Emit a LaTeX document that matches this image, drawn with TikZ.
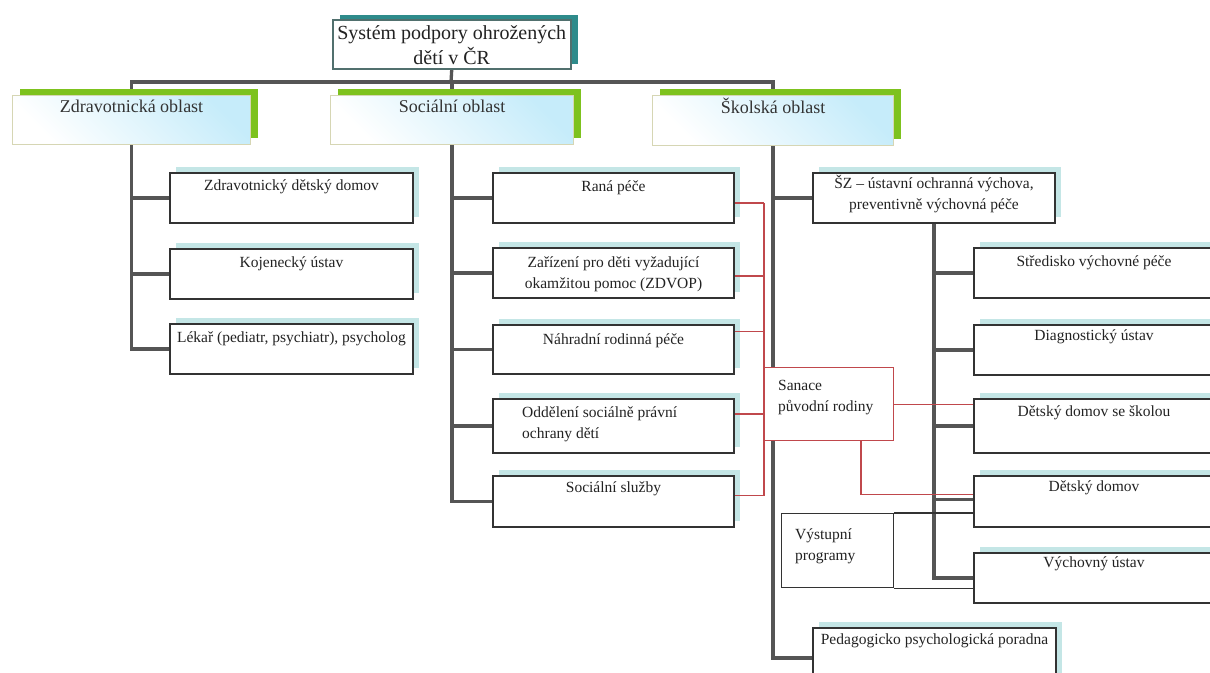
\documentclass[tikz,border=0pt]{standalone}
\usepackage{fontspec}
\setmainfont{Liberation Serif}
\usetikzlibrary{shadows,calc,backgrounds}
\pgfdeclarelayer{bottom}
\pgfsetlayers{bottom,background,main}
\definecolor{gline}{HTML}{555555}
\definecolor{bord}{HTML}{333333}
\definecolor{shteal}{HTML}{C4E6E6}
\definecolor{catgreen}{HTML}{7DC21E}
\definecolor{catbord}{HTML}{D6D6B4}
\definecolor{catblue}{HTML}{C6ECFA}
\definecolor{titlebord}{HTML}{51706E}
\definecolor{titleteal}{HTML}{2E8B8B}
\definecolor{redl}{HTML}{C0484C}
\definecolor{txtc}{HTML}{222222}
\tikzset{
  conn/.style={draw=gline, line width=3.3pt},
  rconn/.style={draw=redl, line width=1.2pt},
  thinl/.style={draw=bord, line width=1.3pt},
  cbox/.style={draw=bord, line width=2pt, fill=white, anchor=north west, inner sep=0pt,
    general shadow={fill=shteal, shadow xshift=6pt, shadow yshift=6pt}},
  catbox/.style={draw=catbord, line width=1pt, anchor=north west, inner sep=0pt,
    top color=catblue, bottom color=white, shading angle=-45,
    general shadow={fill=catgreen, shadow xshift=7pt, shadow yshift=7pt}},
  titlebox/.style={draw=titlebord, line width=1.5pt, fill=white, anchor=north west, inner sep=0pt,
    general shadow={fill=titleteal, shadow xshift=7pt, shadow yshift=5pt}},
  sanbox/.style={draw=redl, line width=1.2pt, fill=white, anchor=north west, inner sep=0pt},
  vpbox/.style={draw=bord, line width=1.3pt, fill=white, anchor=north west, inner sep=0pt},
  txt/.style={font=\fontsize{15.5}{21}\selectfont, text=txtc, inner sep=0pt, anchor=north, align=center},
  ltxt/.style={font=\fontsize{15.5}{21}\selectfont, text=txtc, inner sep=0pt, anchor=north west, align=left},
  cattxt/.style={font=\fontsize{18}{21}\selectfont, text=black!80, inner sep=0pt, anchor=north, align=center},
  ttltxt/.style={font=\fontsize{20}{24}\selectfont, text=txtc, inner sep=0pt, anchor=north, align=center},
}
\begin{document}
\begin{tikzpicture}[x=1pt,y=-1pt]
\path[use as bounding box, clip] (0,0) rectangle (1210,672);
\begin{pgfonlayer}{bottom}
\fill[white] (0,0) rectangle (1210,672);
\end{pgfonlayer}
% title
\node[titlebox, minimum width=238pt, minimum height=49pt] (title) at (332,19) {};
\node[ttltxt] (titleT) at ($(title.north)+(0,3)$) {\strut Systém podpory ohrožených\\\strut dětí v ČR};
% categories
\node[catbox, minimum width=238pt, minimum height=49pt] (zd) at (12,95) {};
\node[catbox, minimum width=243pt, minimum height=49pt] (so) at (330,95) {};
\node[catbox, minimum width=241pt, minimum height=50pt] (sk) at (652,95) {};
\node[cattxt] (zdT) at ($(zd.north)+(0,3)$) {\strut Zdravotnická oblast};
\node[cattxt] (soT) at ($(so.north)+(0,3)$) {\strut Sociální oblast};
\node[cattxt] (skT) at ($(sk.north)+(0,3)$) {\strut Školská oblast};
% health children
\node[cbox, minimum width=243pt, minimum height=50pt] (zdd) at (169,172) {};
\node[cbox, minimum width=243pt, minimum height=50pt] (koj) at (169,248) {};
\node[cbox, minimum width=243pt, minimum height=50pt] (lek) at (169,323) {};
\node[txt] (zddT) at ($(zdd.north)+(0,4)$) {\strut Zdravotnický dětský domov};
\node[txt] (kojT) at ($(koj.north)+(0,5)$) {\strut Kojenecký ústav};
\node[txt] (lekT) at ($(lek.north)+(0,5)$) {\strut Lékař (pediatr, psychiatr), psycholog};
% social children
\node[cbox, minimum width=241pt, minimum height=50pt] (rana) at (492,172) {};
\node[cbox, minimum width=241pt, minimum height=50pt] (zdvop) at (492,247) {};
\node[cbox, minimum width=241pt, minimum height=49pt] (nrp) at (492,324) {};
\node[cbox, minimum width=241pt, minimum height=54pt] (ospod) at (492,398) {};
\node[cbox, minimum width=241pt, minimum height=51pt] (ss) at (492,475) {};
\node[txt] (ranaT) at ($(rana.north)+(0,5)$) {\strut Raná péče};
\node[txt] (zdvopT) at ($(zdvop.north)+(0,6)$) {\strut Zařízení pro děti vyžadující\\\strut okamžitou pomoc (ZDVOP)};
\node[txt] (nrpT) at ($(nrp.north)+(0,6)$) {\strut Náhradní rodinná péče};
\node[ltxt] (ospodT) at ($(ospod.north west)+(30,5)$) {\strut Oddělení sociálně právní\\\strut ochrany dětí};
\node[txt] (ssT) at ($(ss.north)+(0,3)$) {\strut Sociální služby};
% school children
\node[cbox, minimum width=242pt, minimum height=50pt] (sz) at (812,172) {};
\node[txt] (szT) at ($(sz.north)+(0,2)$) {\strut ŠZ – ústavní ochranná výchova,\\\strut preventivně výchovná péče};
\node[cbox, minimum width=240pt, minimum height=50pt] (svp) at (973,247) {};
\node[cbox, minimum width=240pt, minimum height=50pt] (du) at (973,324) {};
\node[cbox, minimum width=240pt, minimum height=54pt] (dds) at (973,398) {};
\node[cbox, minimum width=240pt, minimum height=51pt] (dd) at (973,475) {};
\node[cbox, minimum width=240pt, minimum height=50pt] (vu) at (973,552) {};
\node[txt] (svpT) at ($(svp.north)+(0,5)$) {\strut Středisko výchovné péče};
\node[txt] (duT) at ($(du.north)+(0,2)$) {\strut Diagnostický ústav};
\node[txt] (ddsT) at ($(dds.north)+(0,4)$) {\strut Dětský domov se školou};
\node[txt] (ddT) at ($(dd.north)+(0,2)$) {\strut Dětský domov};
\node[txt] (vuT) at ($(vu.north)+(0,1)$) {\strut Výchovný ústav};
\node[cbox, minimum width=243pt, minimum height=60pt] (ppp) at (812,627) {};
\node[txt] (pppT) at ($(ppp.north)+(0,3)$) {\strut Pedagogicko psychologická poradna};
% Sanace + Vystupni
\node[sanbox, minimum width=129pt, minimum height=73pt] (san) at (764,367) {};
\node[ltxt] (sanT) at ($(san.north west)+(14,9)$) {\strut Sanace\\\strut původní rodiny};
\node[vpbox, minimum width=112pt, minimum height=74pt] (vp) at (781,513) {};
\node[ltxt] (vpT) at ($(vp.north west)+(14,12)$) {\strut Výstupní\\\strut programy};
% grey connectors
\begin{scope}[on background layer]
\coordinate (hub) at (451,82);
\draw[conn] (title.south) -- (hub);
\draw[conn] (zd.north) |- (hub) -| (sk.north);
\draw[conn] (so.north) -- (so.north |- hub);
\draw[conn] (zd.south) |- (zdd.west);
\draw[conn] (zd.south) |- (koj.west);
\draw[conn] (zd.south) |- (lek.west);
\draw[conn] (so.south) |- (rana.west);
\draw[conn] (so.south) |- (zdvop.west);
\draw[conn] (so.south) |- (nrp.west);
\draw[conn] (so.south) |- (ospod.west);
\draw[conn] (so.south) |- (ss.west);
\draw[conn] (sk.south) |- (sz.west);
\draw[conn] (sk.south) |- (ppp.west);
\draw[conn] (sz.south) |- (svp.west);
\draw[conn] (sz.south) |- (du.west);
\draw[conn] (sz.south) |- (dds.west);
\draw[conn] (sz.south) |- ($(dd.west)+(0,-2)$);
\draw[conn] (sz.south) |- (vu.west);
\end{scope}
% thin lines of Vystupni programy
\draw[thinl] (vp.north east) -- (vp.north east -| dd.west);
\draw[thinl] (vp.south east) -- (vp.south east -| vu.west);
% red connectors
\path ($(rana.east)+(0,5)$) coordinate (r1)
      ($(zdvop.east)+(0,3)$) coordinate (r2)
      ($(nrp.east)+(0,-18)$) coordinate (r3)
      ($(ospod.east)+(0,-12)$) coordinate (r4)
      ($(ss.east)+(0,-6)$) coordinate (r5)
      ($(san.south west)+(97,0)$) coordinate (sb);
\draw[rconn] (r1) -- (r1 -| san.west);
\draw[rconn] (r2) -- (r2 -| san.west);
\draw[rconn] (r3) -- (r3 -| san.west);
\draw[rconn] (r4) -- (r4 -| san.west);
\draw[rconn] (r5) -- (r5 -| san.west);
\draw[rconn] (r1 -| san.west) -- (r5 -| san.west);
\draw[rconn] (san.east) -- (san.east -| dds.west);
\draw[rconn] (sb) |- ($(dd.west)+(0,-7)$);
\end{tikzpicture}
\end{document}
